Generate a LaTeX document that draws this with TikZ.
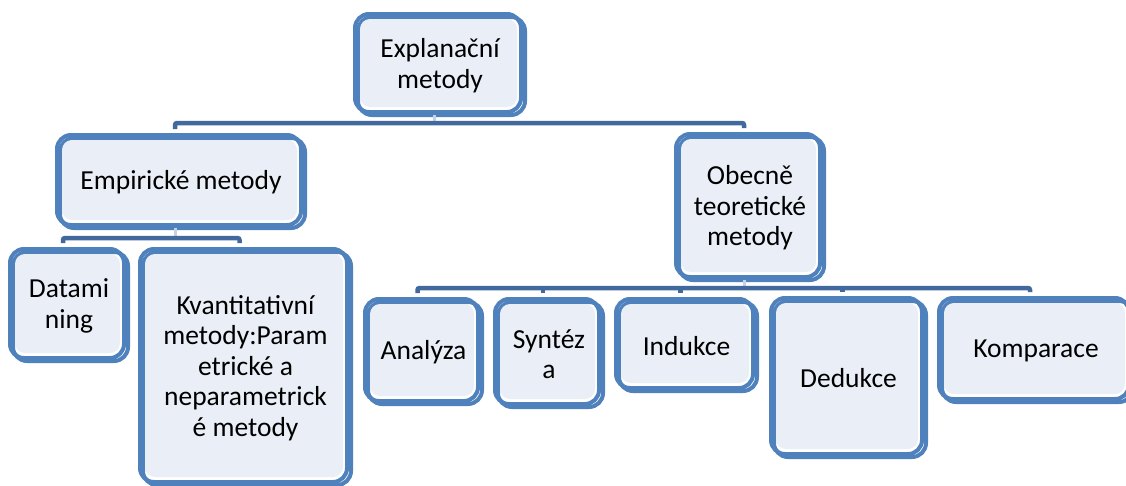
\documentclass[tikz,border=0pt]{standalone}
\usepackage{fontspec}
\setmainfont{Carlito}
\definecolor{stk}{HTML}{4F81BD}
\definecolor{fil}{HTML}{EAEFF7}
\definecolor{busc}{HTML}{41699E}
\definecolor{stubc}{HTML}{C5D3E8}
\tikzset{
  outl/.style={draw=stk, line width=4pt, rounded corners=14pt},
  innerfill/.style={fill=fil, rounded corners=10pt},
  lbl/.style={font=\fontsize{27.5}{30.5}\selectfont, align=center, inner sep=0pt, text=black},
  busline/.style={draw=busc, line width=4.5pt, rounded corners=2pt},
  stubline/.style={draw=stubc, line width=3pt},
}
\newcommand\smbox[6]{%
  \draw[outl] (#2+2,#3+2) rectangle (#4-6,#5-5);
  \draw[outl] (#2+5,#3+5) rectangle (#4-2,#5-2);
  \fill[innerfill] (#2+7,#3+7) rectangle (#4-10,#5-10);
  \node[lbl] (#1) at ({(#2+#4)/2},{(#3+#5)/2+1}) {#6};
  \coordinate (#1-n) at ({(#2+#4)/2-6},#3-4);
  \coordinate (#1-s) at ({(#2+#4)/2-6},#5-2);
}
\begin{document}
\begin{tikzpicture}[x=1pt,y=-1pt]
\useasboundingbox (0,0) rectangle (1126,485);
\clip (0,0) rectangle (1126,485);
\fill[white] (0,0) rectangle (1126,485);
\coordinate (bA) at (0,123);
\coordinate (bB) at (0,238);
\coordinate (bC) at (0,288);
\smbox{expl}{353}{12}{527}{117}{Explanační\\metody}
\smbox{emp}{55}{133}{307}{230}{Empirické metody}
\smbox{obe}{674}{132}{826}{282}{Obecně\\teoretické\\metody}
\smbox{data}{8}{247}{130}{363}{Datami\\ning}
\smbox{kvan}{138}{247}{353}{487}{Kvantitativní\\metody:Param\\etrické a\\neparametrick\\é metody}
\smbox{anal}{363}{297}{484}{406}{Analýza}
\smbox{synt}{493}{297}{605}{409}{Syntéz\\a}
\smbox{indu}{614}{297}{759}{393}{Indukce}
\smbox{dedu}{769}{296}{928}{459}{Dedukce}
\smbox{komp}{937}{296}{1135}{404}{Komparace}
\draw[stubline] (expl-s) -- (expl-s |- bA);
\draw[busline] (emp-n) -- (emp-n |- bA) -- (obe-n |- bA) -- (obe-n);
\draw[stubline] (emp-s) -- (emp-s |- bB);
\draw[busline] (data-n) -- (data-n |- bB) -- (kvan-n |- bB) -- (kvan-n);
\draw[stubline] (obe-s) -- (obe-s |- bC);
\draw[busline] (anal-n) -- (anal-n |- bC) -- (komp-n |- bC) -- (komp-n);
\draw[busline] (synt-n) -- (synt-n |- bC);
\draw[busline] (indu-n) -- (indu-n |- bC);
\draw[busline] (dedu-n) -- (dedu-n |- bC);
\end{tikzpicture}
\end{document}
